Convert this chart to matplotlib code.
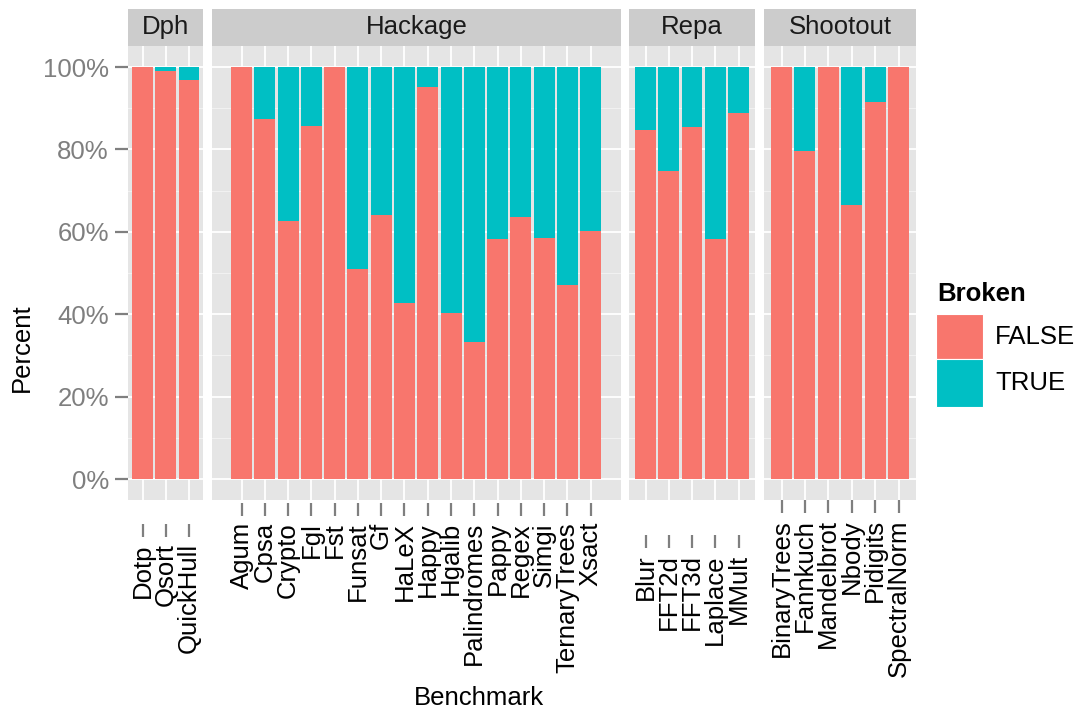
import matplotlib
matplotlib.use("Agg")
import matplotlib.pyplot as plt
from matplotlib.patches import Rectangle

plt.rcParams["font.family"] = ["Liberation Sans", "DejaVu Sans"]

# ---- data: share of runs that were NOT broken (percent), per benchmark ----
groups = ["Dph", "Hackage", "Repa", "Shootout"]

dph_names = ["Dotp", "Qsort", "QuickHull"]
dph_false = [100.0, 99.0, 96.8]

hackage_names = ["Agum", "Cpsa", "Crypto", "Fgl", "Fst", "Funsat", "Gf", "HaLeX",
                 "Happy", "Hgalib", "Palindromes", "Pappy", "Regex", "Simgi",
                 "TernaryTrees", "Xsact"]
hackage_false = [100.0, 87.3, 62.6, 85.6, 100.0, 51.0, 64.0, 42.7,
                 95.1, 40.3, 33.3, 58.3, 63.6, 58.6, 47.1, 60.2]

repa_names = ["Blur", "FFT2d", "FFT3d", "Laplace", "MMult"]
repa_false = [84.6, 74.8, 85.5, 58.3, 88.8]

shootout_names = ["BinaryTrees", "Fannkuch", "Mandelbrot", "Nbody", "Pidigits",
                  "SpectralNorm"]
shootout_false = [100.0, 79.7, 100.0, 66.5, 91.4, 100.0]

legend_title = "Broken"
legend_labels = ["FALSE", "TRUE"]
y_ticks = [0, 20, 40, 60, 80, 100]
y_ticklabels = ["0%", "20%", "40%", "60%", "80%", "100%"]

# ---- styling ----
COL_FALSE = "#F8766D"
COL_TRUE = "#00BFC4"
PANEL_BG = "#E5E5E5"
STRIP_BG = "#CCCCCC"
MINOR_GRID = "#F2F2F2"
AXIS_GREY = "#7F7F7F"
FS = 18.5

W, H = 1080, 713
fig = plt.figure(figsize=(W / 100, H / 100), dpi=100)


def px_axes(x0, y0, x1, y1):
    """Axes placed by pixel box (top-left origin)."""
    return fig.add_axes([x0 / W, 1 - y1 / H, (x1 - x0) / W, (y1 - y0) / H])


# panel layout: (left px, right px, first bar centre px, bar spacing px, axis offset px)
layout = {
    "Dph": (128, 203, 142.5, 23.25, 24),
    "Hackage": (212, 621, 241.6, 23.27, 3),
    "Repa": (629, 755, 645.5, 23.25, 35),
    "Shootout": (764, 916, 781.5, 23.4, 0),
}
data = {
    "Dph": (dph_names, dph_false),
    "Hackage": (hackage_names, hackage_false),
    "Repa": (repa_names, repa_false),
    "Shootout": (shootout_names, shootout_false),
}

PANEL_TOP, PANEL_BOTTOM = 46.4, 499.6
STRIP_TOP, STRIP_BOTTOM = 9, 45.5

for g in groups:
    left, right, c0, sp, offset = layout[g]
    names, false_pct = data[g]
    x = list(range(len(names)))

    ax = px_axes(left, PANEL_TOP, right, PANEL_BOTTOM)
    ax.set_facecolor(PANEL_BG)
    ax.set_xlim((left - c0) / sp, (right - c0) / sp)
    ax.set_ylim(-5, 105)

    # gridlines
    for v in [10, 30, 50, 70, 90]:
        ax.axhline(v, color=MINOR_GRID, lw=0.7, zorder=0.5)
    for v in y_ticks:
        ax.axhline(v, color="white", lw=1.3, zorder=0.6)
    for xi in x:
        ax.axvline(xi, color="white", lw=1.3, zorder=0.6)

    true_pct = [100 - f for f in false_pct]
    ax.bar(x, false_pct, width=0.9, color=COL_FALSE, zorder=2, linewidth=0)
    ax.bar(x, true_pct, bottom=false_pct, width=0.9, color=COL_TRUE, zorder=2,
           linewidth=0)

    for s in ax.spines.values():
        s.set_visible(False)
    ax.spines["bottom"].set_position(("outward", offset * 0.72))

    ax.set_xticks(x)
    ax.set_xticklabels(names, rotation=90, fontsize=FS, color="black")
    ax.tick_params(axis="x", length=9, width=1.6, color=AXIS_GREY, pad=5)

    ax.set_yticks(y_ticks)
    if g == "Dph":
        ax.set_yticklabels(y_ticklabels, fontsize=FS, color=AXIS_GREY)
        ax.tick_params(axis="y", length=9.2, width=1.6, color=AXIS_GREY, pad=4.5)
    else:
        ax.tick_params(axis="y", length=0, labelleft=False)

    # facet strip
    sax = px_axes(left, STRIP_TOP, right, STRIP_BOTTOM)
    sax.set_facecolor(STRIP_BG)
    sax.set_xticks([])
    sax.set_yticks([])
    for s in sax.spines.values():
        s.set_visible(False)
    sax.text(0.5, 0.5, g, ha="center", va="center", fontsize=FS,
             color="#1A1A1A", transform=sax.transAxes)

# axis titles
fig.text(22 / W, 1 - 348 / H, "Percent", rotation=90, ha="center", va="center",
         fontsize=FS, color="black")
fig.text(479 / W, 1 - 698 / H, "Benchmark", ha="center", va="center",
         fontsize=FS, color="black")

# legend
fig.text(937 / W, 1 - 294 / H, legend_title, ha="left", va="center",
         fontsize=FS, fontweight="bold", color="black")
key_x0, key_x1 = 936, 983
keys = [(314, 359, COL_FALSE), (359, 407, COL_TRUE)]
for (ky0, ky1, col), lab in zip(keys, legend_labels):
    fig.add_artist(Rectangle((key_x0 / W, 1 - ky1 / H), (key_x1 - key_x0) / W,
                             (ky1 - ky0) / H, transform=fig.transFigure,
                             facecolor=col, edgecolor="white", linewidth=0.8))
    fig.text(995 / W, 1 - (ky0 + ky1) / 2 / H, lab, ha="left", va="center",
             fontsize=FS, color="black")

fig.savefig("out.png", dpi=100)
